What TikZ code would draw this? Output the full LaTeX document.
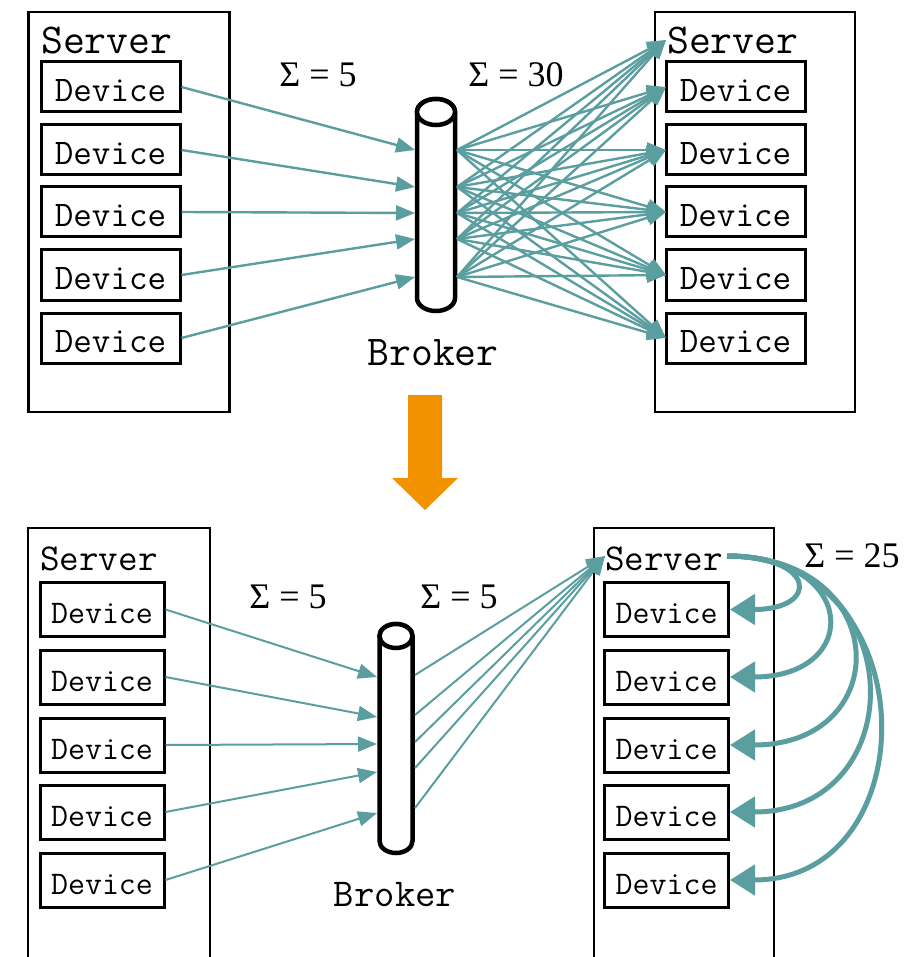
\documentclass[tikz,border=0pt]{standalone}
\usepackage{fontspec}
\setmainfont{Liberation Serif}
\usetikzlibrary{arrows.meta}
\definecolor{linkteal}{RGB}{91,158,160}
\definecolor{steporange}{RGB}{243,146,0}
\tikzset{
  box/.style={draw=black, line width=3pt, inner sep=0pt, fill=white},
  srvbox/.style={draw=black, line width=2.6pt, inner sep=0pt},
  devtop/.style={box, font=\ttfamily\fontsize{36}{36}\selectfont,
    minimum width=139pt, minimum height=50pt, text depth=0pt, text height=29pt},
  devbot/.style={box, font=\ttfamily\fontsize{33}{33}\selectfont,
    minimum width=124pt, minimum height=54pt, text depth=0pt, text height=28.5pt},
  srvtop/.style={font=\ttfamily\fontsize{42.5}{42.5}\selectfont, inner sep=0pt, anchor=west},
  srvbot/.style={font=\ttfamily\fontsize{38}{38}\selectfont, inner sep=0pt, anchor=west},
  brklabel/.style={inner sep=0pt},
  sumlabel/.style={font=\fontsize{36}{36}\selectfont, inner sep=0pt},
  cyl/.style={draw=black, line width=4.5pt, fill=white},
  flow/.style={draw=linkteal, line width=2.4pt,
    -{Triangle[length=19pt,width=15pt]}},
  flowthin/.style={draw=linkteal, line width=2pt,
    -{Triangle[length=19pt,width=15pt]}},
  local/.style={draw=linkteal, line width=5pt,
    -{Triangle[length=25pt,width=30pt]}},
}
\begin{document}
\begin{tikzpicture}[x=1pt, y=-1pt]
\clip (0,0) rectangle (919,957);

% ---------------- upper scenario ----------------
\node[srvbox, minimum width=201pt, minimum height=400pt] (tls) at (129,212) {};
\node[srvbox, minimum width=200pt, minimum height=400pt] (trs) at (755,212) {};
\node[srvtop] (tlsl) at (41,41) {Server};
\node[srvtop] (trsl) at (667,41) {Server};

\foreach \i/\y in {1/87,2/150,3/212,4/275,5/338}{
  \node[devtop] (tl\i) at (110.5,\y) {Device};
  \node[devtop] (tr\i) at (735.5,\y) {Device};
}

% broker cylinder
\path (436,205) node[minimum width=42pt, minimum height=216pt] (tbrk) {};
\draw[cyl] (417,112) -- (417,298)
  arc[start angle=180, end angle=360, x radius=19pt, y radius=13pt]
  -- (455,112)
  arc[start angle=0, end angle=180, x radius=19pt, y radius=13pt] -- cycle;
\draw[cyl] (436,112) ellipse [x radius=19pt, y radius=13pt];
\node[brklabel, font=\ttfamily\fontsize{42.5}{42.5}\selectfont] (tbl) at (433,353) {Broker};

\foreach \i/\y in {1/150,2/187,3/213,4/239,5/277}{
  \coordinate (tin\i) at (415,\y);
  \coordinate (tout\i) at (457,\y);
}
\coordinate (ttarget0) at (666,40);
\foreach \i/\y in {1/87,2/150,3/212,4/275,5/338}{
  \coordinate (ttarget\i) at (666,\y);
}

\foreach \i in {1,...,5}{
  \draw[flow] (tl\i.east) -- (tin\i);
}
\foreach \i in {1,...,5}{
  \foreach \j in {0,...,5}{
    \draw[flow] (tout\i) -- (ttarget\j);
  }
}

\node[sumlabel] (ts1) at (318,75) {Σ = 5};
\node[sumlabel] (ts2) at (516,75) {Σ = 30};

% transition arrow
\fill[steporange] (408,395) -- (442,395) -- (442,478) -- (458,478)
  -- (425,510) -- (392,478) -- (408,478) -- cycle;

% ---------------- lower scenario ----------------
\node[srvbox, minimum width=182pt, minimum height=460pt] (bls) at (119,758) {};
\node[srvbox, minimum width=180pt, minimum height=460pt] (brs) at (684,758) {};
\node[srvbot] (blsl) at (40,559) {Server};
\node[srvbot] (brsl) at (605,559) {Server};

\foreach \i/\y in {1/609.5,2/677,3/745,4/812,5/880}{
  \node[devbot] (bl\i) at (102,\y) {Device};
  \node[devbot] (br\i) at (666.5,\y) {Device};
}

\path (396,738) node[minimum width=38pt, minimum height=234pt] (bbrk) {};
\draw[cyl] (379.5,636) -- (379.5,841)
  arc[start angle=180, end angle=360, x radius=16.5pt, y radius=12pt]
  -- (412.5,636)
  arc[start angle=0, end angle=180, x radius=16.5pt, y radius=12pt] -- cycle;
\draw[cyl] (396,636) ellipse [x radius=16.5pt, y radius=12pt];
\node[brklabel, font=\ttfamily\fontsize{39.5}{39.5}\selectfont] (bbl) at (395,895) {Broker};

\foreach \i/\y in {1/677,2/717,3/744,4/772,5/813}{
  \coordinate (bin\i) at (377,\y);
}
\foreach \i/\y in {1/675,2/715,3/742,4/768,5/808}{
  \coordinate (bout\i) at (415,\y);
}
\coordinate (btarget) at (605,556);

\foreach \i in {1,...,5}{
  \draw[flowthin] (bl\i.east) -- (bin\i);
  \draw[flowthin] (bout\i) -- (btarget);
}

% local delivery inside the server
\coordinate (bsrc) at (727,556);
\foreach \i/\d in {1/90,2/132,3/166,4/185,5/200}{
  \draw[local] (bsrc) to[out=0, in=0, out distance=\d pt, in distance=\d pt] (br\i.east);
}

\node[sumlabel] (bs1) at (288,597) {Σ = 5};
\node[sumlabel] (bs2) at (459,597) {Σ = 5};
\node[sumlabel] (bs3) at (852,556) {Σ = 25};

\end{tikzpicture}
\end{document}
